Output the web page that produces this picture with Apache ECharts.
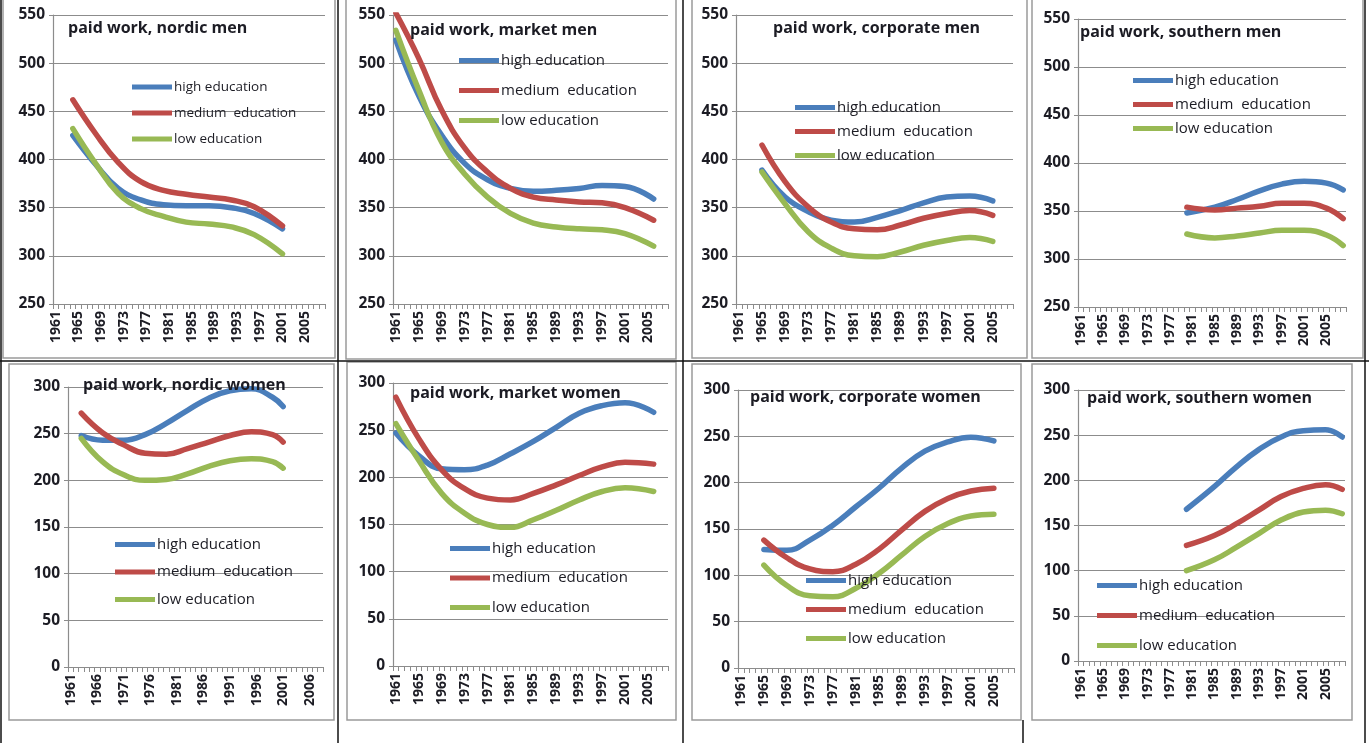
<!DOCTYPE html>
<html>
<head>
<meta charset="utf-8">
<style>
html, body { margin: 0; padding: 0; background: #fff; }
#main { width: 1369px; height: 743px; }
</style>
</head>
<body>
<div id="main"></div>
<script src="https://cdn.jsdelivr.net/npm/echarts@6.0.0/dist/echarts.min.js"></script>
<script>
var years = ['1961','1962','1963','1964','1965','1966','1967','1968','1969','1970',
	'1971','1972','1973','1974','1975','1976','1977','1978','1979','1980',
	'1981','1982','1983','1984','1985','1986','1987','1988','1989','1990',
	'1991','1992','1993','1994','1995','1996','1997','1998','1999','2000',
	'2001','2002','2003','2004','2005','2006','2007','2008'];

var seriesNames = ['high education', 'medium  education', 'low education'];
var colors = ['#4a7ebb', '#be4b48', '#98b954'];

// men, minutes of paid work per day
var nordicMenYears = [1964, 1968, 1972, 1976, 1980, 1984, 1988, 1992, 1996, 2001];
var nordicMenHigh = [425, 395, 370, 358, 353, 352, 352, 350, 344, 328];
var nordicMenMed  = [462, 427, 397, 377, 368, 364, 361, 358, 351, 331];
var nordicMenLow  = [432, 396, 365, 349, 341, 335, 333, 330, 322, 302];

var marketMenYears = [1961, 1965, 1969, 1973, 1977, 1981, 1985, 1989, 1993, 1997, 2001, 2006];
var marketMenHigh = [524, 466, 425, 396, 379, 370, 367, 368, 370, 373, 372, 359];
var marketMenMed  = [552, 505, 451, 412, 387, 370, 361, 358, 356, 355, 350, 337];
var marketMenLow  = [534, 472, 418, 385, 361, 344, 334, 330, 328, 327, 323, 310];

var corpMenYears = [1965, 1969, 1973, 1977, 1981, 1985, 1989, 1993, 1997, 2001, 2005];
var corpMenHigh = [389, 361, 346, 337, 335, 340, 347, 355, 361, 362, 357];
var corpMenMed  = [415, 377, 351, 335, 328, 327, 332, 339, 344, 347, 342];
var corpMenLow  = [387, 354, 325, 308, 300, 299, 304, 311, 316, 319, 315];

var southMenYears = [1980, 1985, 1989, 1993, 1997, 2001, 2005, 2008];
var southMenHigh = [348, 354, 362, 371, 378, 381, 379, 372];
var southMenMed  = [354, 351, 353, 355, 358, 358, 353, 342];
var southMenLow  = [326, 322, 324, 327, 330, 330, 325, 314];

// women
var nordicWomenYears = [1963, 1967, 1971, 1975, 1979, 1983, 1987, 1991, 1995, 1999, 2001];
var nordicWomenHigh = [248, 243, 243, 249, 261, 275, 288, 296, 298, 289, 279];
var nordicWomenMed  = [272, 251, 238, 229, 228, 234, 241, 248, 252, 249, 241];
var nordicWomenLow  = [245, 220, 206, 200, 201, 207, 215, 221, 223, 220, 213];

var marketWomenYears = [1961, 1965, 1969, 1973, 1977, 1981, 1985, 1989, 1993, 1997, 2001, 2006];
var marketWomenHigh = [247, 223, 209, 208, 213, 225, 238, 253, 268, 276, 279, 269];
var marketWomenMed  = [285, 241, 208, 188, 178, 176, 183, 192, 202, 211, 216, 214];
var marketWomenLow  = [257, 218, 183, 162, 150, 147, 155, 165, 176, 185, 189, 185];

var corpWomenYears = [1965, 1969, 1973, 1977, 1981, 1985, 1989, 1993, 1997, 2001, 2005];
var corpWomenHigh = [128, 127, 138, 154, 174, 194, 216, 234, 244, 249, 245];
var corpWomenMed  = [138, 119, 107, 104, 112, 128, 149, 169, 183, 191, 194];
var corpWomenLow  = [111, 89, 78, 77, 86, 102, 122, 142, 156, 164, 166];

var southWomenYears = [1980, 1985, 1989, 1993, 1997, 2001, 2005, 2008];
var southWomenHigh = [168, 193, 215, 234, 248, 255, 256, 248];
var southWomenMed  = [128, 139, 152, 167, 182, 191, 195, 190];
var southWomenLow  = [100, 112, 126, 141, 156, 165, 167, 163];

var panels = [
	{title: 'paid work, nordic men', yrs: nordicMenYears, vals: [nordicMenHigh, nordicMenMed, nordicMenLow], men: true,
		grid: [53, 15, 272, 289], tx: 68, ty: 28, lg: [132, 80, 12, 13.5], step: 3},
	{title: 'paid work, market men', yrs: marketMenYears, vals: [marketMenHigh, marketMenMed, marketMenLow], men: true,
		grid: [393, 15, 275, 289], tx: 410, ty: 30, lg: [459, 53, 15, 15], step: 3},
	{title: 'paid work, corporate men', yrs: corpMenYears, vals: [corpMenHigh, corpMenMed, corpMenLow], men: true,
		grid: [736, 15, 277, 289], tx: 773, ty: 28, lg: [795, 100, 9, 15], step: 3},
	{title: 'paid work, southern men', yrs: southMenYears, vals: [southMenHigh, southMenMed, southMenLow], men: true,
		grid: [1078, 19, 268, 288], tx: 1080, ty: 32, lg: [1133, 73, 9, 15], step: 3},
	{title: 'paid work, nordic women', yrs: nordicWomenYears, vals: [nordicWomenHigh, nordicWomenMed, nordicWomenLow], men: false,
		grid: [68, 387, 255, 280], tx: 83, ty: 385, lg: [115, 537, 12.5, 15], step: 4},
	{title: 'paid work, market women', yrs: marketWomenYears, vals: [marketWomenHigh, marketWomenMed, marketWomenLow], men: false,
		grid: [393, 383, 275, 283], tx: 410, ty: 393, lg: [450, 541, 14.5, 15], step: 3},
	{title: 'paid work, corporate women', yrs: corpWomenYears, vals: [corpWomenHigh, corpWomenMed, corpWomenLow], men: false,
		grid: [738, 390, 276, 278], tx: 750, ty: 397, lg: [806, 573, 14, 15], step: 3},
	{title: 'paid work, southern women', yrs: southWomenYears, vals: [southWomenHigh, southWomenMed, southWomenLow], men: false,
		grid: [1078, 390, 267, 271], tx: 1087, ty: 398, lg: [1097, 578, 15, 15], step: 3}
];

var font = '"Open Sans", Lato, sans-serif';
var textColor = '#1c1c24';
var gray = '#8c8c8c';

var grids = [], xAxes = [], yAxes = [], series = [], legends = [];
var graphics = [];

// chart area frames and table lines
var boxes = [
	[3, -5, 332, 363], [346, -5, 330, 364], [692, -5, 335, 363], [1032, -5, 331, 363],
	[9, 364, 325, 356], [347, 362, 329, 358], [692, 364, 329, 356], [1032, 364, 320, 356]
];
boxes.forEach(function (b) {
	graphics.push({type: 'rect', shape: {x: b[0], y: b[1], width: b[2], height: b[3]},
		style: {fill: '#fff', stroke: '#9a9a9a', lineWidth: 1.5}, z: -10});
});
var blackLines = [[0, 361, 1369, 361], [338, 0, 338, 743], [683, 0, 683, 743], [1023, 720, 1023, 743],
	[1, 0, 1, 743], [1365, 0, 1365, 743]];
blackLines.forEach(function (l) {
	graphics.push({type: 'line', shape: {x1: l[0], y1: l[1], x2: l[2], y2: l[3]},
		style: {stroke: '#111', lineWidth: 1.5}, z: -5});
});

panels.forEach(function (p, i) {
	grids.push({left: p.grid[0], top: p.grid[1], width: p.grid[2], height: p.grid[3], containLabel: false});
	xAxes.push({
		type: 'category', gridIndex: i, data: years, boundaryGap: true,
		axisLine: {lineStyle: {color: gray, width: 1.2}},
		axisTick: {show: true, interval: 0, length: 5, lineStyle: {color: gray}},
		axisLabel: {interval: p.step, rotate: 90, fontFamily: font, fontWeight: 'bold', fontSize: 14,
			color: textColor, margin: 7},
		splitLine: {show: false}
	});
	yAxes.push({
		type: 'value', gridIndex: i,
		min: p.men ? 250 : 0, max: p.men ? 550 : 300, interval: 50,
		axisLine: {show: true, lineStyle: {color: gray, width: 1.2}},
		axisTick: {show: true, length: 4, lineStyle: {color: gray}},
		axisLabel: {fontFamily: font, fontWeight: 'bold', fontSize: 15.5, color: textColor, margin: 8},
		splitLine: {lineStyle: {color: gray, width: 1}}
	});
	p.vals.forEach(function (vals, k) {
		series.push({
			type: 'line', name: seriesNames[k], xAxisIndex: i, yAxisIndex: i,
			smooth: 0.45, symbol: 'none', silent: true,
			lineStyle: {width: 5.5, color: colors[k], cap: 'round'},
			itemStyle: {color: colors[k]},
			data: p.yrs.map(function (yr, j) { return [String(yr), vals[j]]; })
		});
	});
	legends.push({
		data: seriesNames, orient: 'vertical', left: p.lg[0], top: p.lg[1], itemGap: p.lg[2],
		icon: 'rect', itemWidth: 40, itemHeight: 5, padding: 0,
		textStyle: {fontFamily: font, fontSize: p.lg[3], color: textColor, padding: [0, 0, 0, -3]},
		selectedMode: false
	});
	graphics.push({type: 'text', x: p.tx, y: p.ty, z: 100,
		style: {text: p.title, font: 'bold 16px ' + font, fill: textColor, textVerticalAlign: 'middle'}});
});

var myChart = echarts.init(document.getElementById('main'));
myChart.setOption({
	animation: false,
	backgroundColor: '#fff',
	grid: grids,
	xAxis: xAxes,
	yAxis: yAxes,
	legend: legends,
	series: series,
	graphic: graphics
});
</script>
</body>
</html>
